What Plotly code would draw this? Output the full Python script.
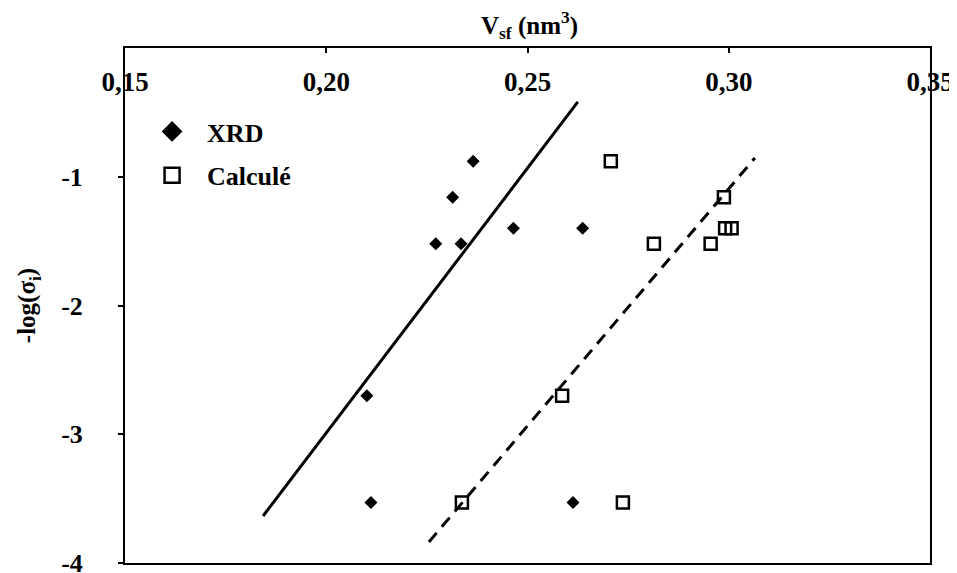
import plotly.graph_objects as go

# Data
xrd_v = [0.2365, 0.2314, 0.2272, 0.2335, 0.2465, 0.2637, 0.2101, 0.2111, 0.2613]
xrd_y = [-0.88, -1.16, -1.52, -1.52, -1.40, -1.40, -2.70, -3.53, -3.53]
calc_v = [0.2707, 0.2988, 0.2814, 0.2955, 0.2991, 0.3007, 0.2586, 0.2337, 0.2737]
calc_y = [-0.88, -1.16, -1.52, -1.52, -1.40, -1.40, -2.70, -3.53, -3.53]
fit_xrd_v = [0.1843, 0.2625]
fit_xrd_y = [-3.635, -0.419]
fit_calc_v = [0.2255, 0.3065]
fit_calc_y = [-3.837, -0.854]
x_ticks = [0.15, 0.20, 0.25, 0.30, 0.35]
x_ticktext = ["<b>0,15</b>", "<b>0,20</b>", "<b>0,25</b>", "<b>0,30</b>", "<b>0,35</b>"]
y_ticks = [-1, -2, -3, -4]
y_ticktext = ["<b>-1</b>", "<b>-2</b>", "<b>-3</b>", "<b>-4</b>"]
x_title = "<b>V<sub>sf</sub> (nm<sup>3</sup>)</b>"
y_title = "<b>-log(σ<sub>i</sub>)</b>"

FONT = "Times New Roman, Liberation Serif, serif"

fig = go.Figure()
fig.add_trace(go.Scatter(x=fit_xrd_v, y=fit_xrd_y, mode="lines",
                         line=dict(color="black", width=3), showlegend=False))
fig.add_trace(go.Scatter(x=fit_calc_v, y=fit_calc_y, mode="lines",
                         line=dict(color="black", width=3, dash="12px,8px"), showlegend=False))
fig.add_trace(go.Scatter(x=xrd_v, y=xrd_y, mode="markers",
                         marker=dict(symbol="diamond", size=10, color="black"),
                         showlegend=False))
fig.add_trace(go.Scatter(x=calc_v, y=calc_y, mode="markers",
                         marker=dict(symbol="square-open", size=12, color="black",
                                     line=dict(width=2.5, color="black")),
                         showlegend=False))
# legend entries
fig.add_trace(go.Scatter(x=[None], y=[None], mode="markers", name="<b>XRD</b>",
                         legendgroup="a",
                         marker=dict(symbol="diamond", size=16, color="black")))
fig.add_trace(go.Scatter(x=[None], y=[None], mode="markers", name="<b>Calculé</b>",
                         legendgroup="b",
                         marker=dict(symbol="square-open", size=15, color="black",
                                     line=dict(width=2.5, color="black"))))

# the page body has an 8px margin: shrink the figure so the plot area lands in place
fig.update_layout(
    width=949, height=565,
    margin=dict(l=117, r=27, t=40, b=10, autoexpand=False),
    paper_bgcolor="white", plot_bgcolor="white",
    font=dict(family=FONT, size=24, color="black"),
    legend=dict(x=0.015, y=0.8835, xanchor="left", yanchor="top",
                bgcolor="rgba(0,0,0,0)", itemwidth=60,
                font=dict(family=FONT, size=26, color="black"),
                traceorder="grouped", tracegroupgap=7),
    xaxis=dict(
        side="top", range=[0.15, 0.35], tickvals=x_ticks, ticktext=x_ticktext,
        automargin=False,
        showline=True, linecolor="black", linewidth=2, mirror=True,
        ticks="inside", ticklen=5, tickcolor="black", tickwidth=1.5,
        ticklabelposition="inside", ticklabeloverflow="allow",
        ticklabelstandoff=22,
        tickfont=dict(family=FONT, size=27, color="black"),
        showgrid=False, zeroline=False,
    ),
    yaxis=dict(
        range=[-4, 0], tickvals=y_ticks, ticktext=y_ticktext,
        automargin=False,
        showline=True, linecolor="black", linewidth=2, mirror=True,
        ticks="outside", ticklen=5, tickcolor="black", tickwidth=1.5,
        ticklabelstandoff=30, ticklabeloverflow="allow",
        tickfont=dict(family=FONT, size=26, color="black"),
        showgrid=False, zeroline=False,
        title=dict(text=y_title, standoff=18,
                   font=dict(family=FONT, size=25, color="black")),
    ),
    annotations=[dict(text=x_title, xref="paper", yref="paper", x=0.502, y=1,
                      xanchor="center", yanchor="bottom", yshift=3, showarrow=False,
                      font=dict(family=FONT, size=25, color="black"))],
)

fig.write_html("out.html")
